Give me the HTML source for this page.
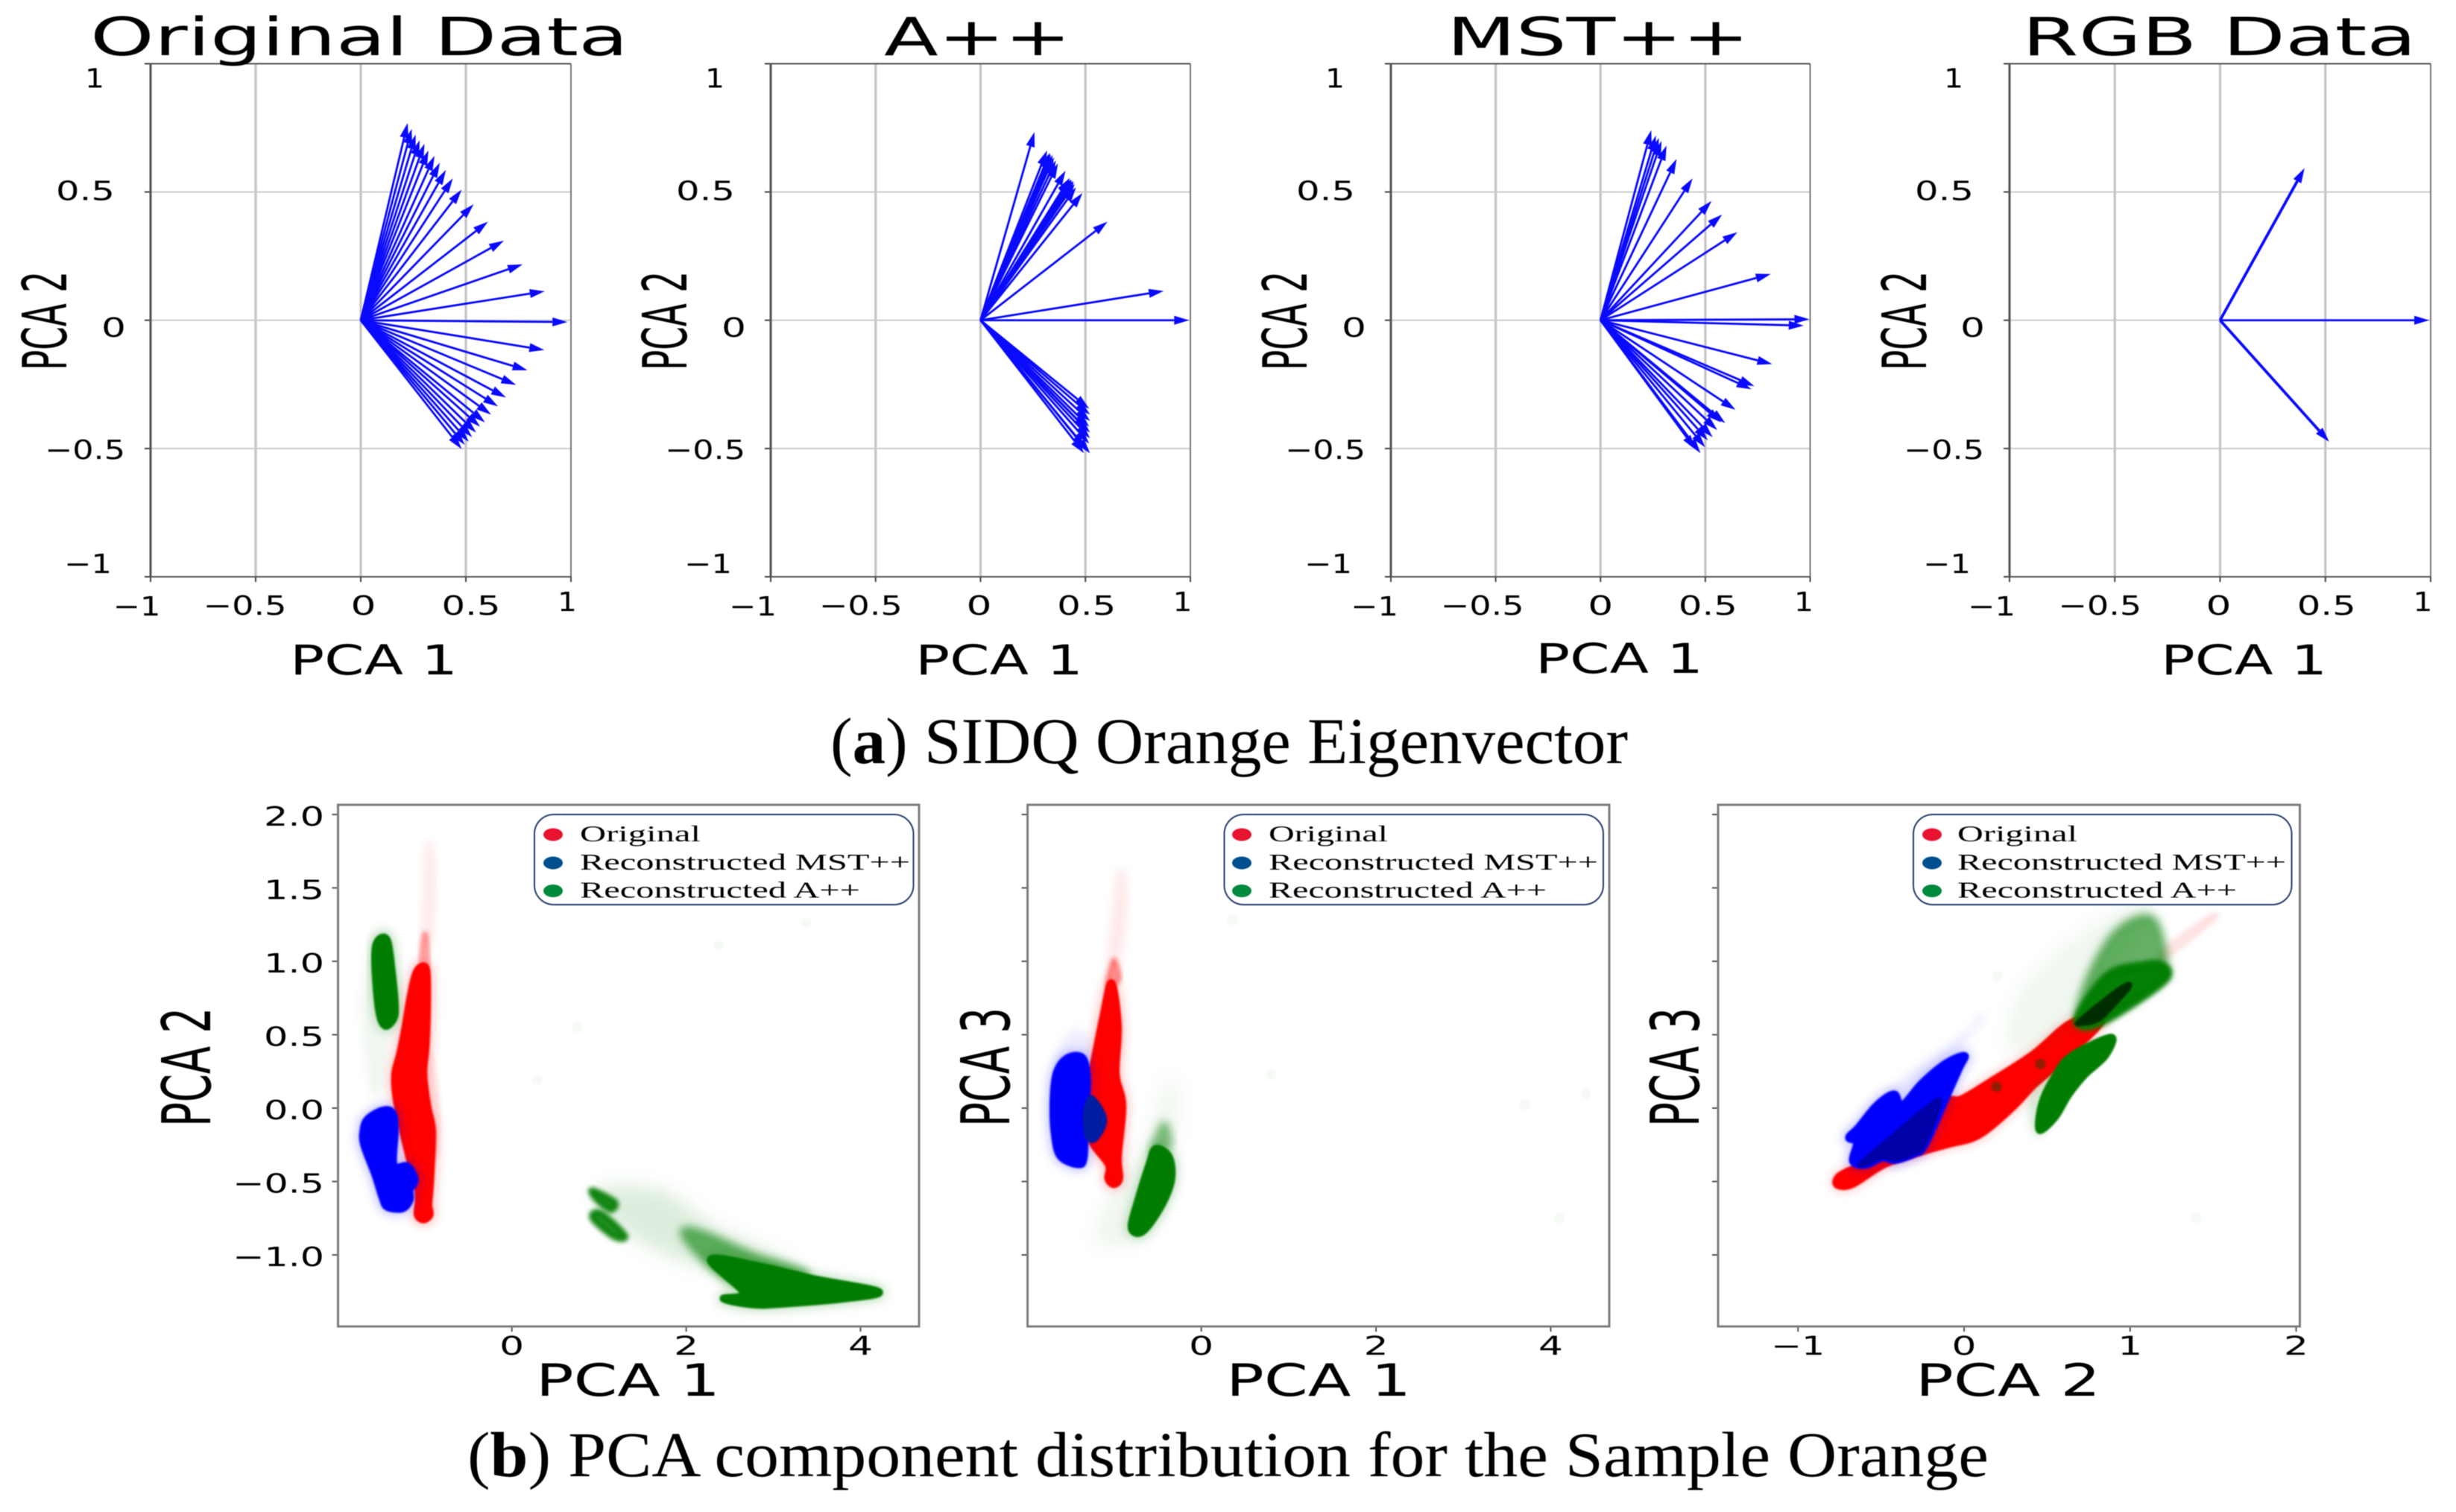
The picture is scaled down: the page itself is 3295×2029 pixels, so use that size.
<!DOCTYPE html>
<html lang="en">
<head>
<meta charset="utf-8">
<title>PCA eigenvectors and component distribution</title>
<style>
html,body{margin:0;padding:0;background:#fff;width:3295px;height:2029px;overflow:hidden}
svg{display:block;filter:blur(0.6px)}
.sans{font-family:"DejaVu Sans","Liberation Sans",sans-serif;fill:#000}
.serif{font-family:"Liberation Serif","DejaVu Serif",serif;fill:#000}
</style>
</head>
<body>
<svg id="fig" xmlns="http://www.w3.org/2000/svg" width="3295" height="2029" viewBox="0 0 3295 2029">
<defs>
<filter id="b1" x="-20%" y="-20%" width="140%" height="140%"><feGaussianBlur stdDeviation="1"/></filter>
<filter id="b3" x="-30%" y="-30%" width="160%" height="160%"><feGaussianBlur stdDeviation="3"/></filter>
<filter id="b6" x="-40%" y="-40%" width="180%" height="180%"><feGaussianBlur stdDeviation="6"/></filter>
<filter id="b12" x="-60%" y="-60%" width="220%" height="220%"><feGaussianBlur stdDeviation="12"/></filter>
</defs>
<rect width="3295" height="2029" fill="#fff"/>
<g id="marks"></g>

<!-- Titles -->
<text class="sans" x="121" y="74" font-size="70" textLength="722" lengthAdjust="spacingAndGlyphs">Original Data</text>
<text class="sans" x="1186" y="74" font-size="70" textLength="251" lengthAdjust="spacingAndGlyphs">A++</text>
<text class="sans" x="1941" y="74" font-size="70" textLength="406" lengthAdjust="spacingAndGlyphs">MST++</text>
<text class="sans" x="2713" y="74" font-size="70" textLength="529" lengthAdjust="spacingAndGlyphs">RGB Data</text>

<!-- Upper x axis titles -->
<text class="sans" x="389" y="905" font-size="55" textLength="225" lengthAdjust="spacingAndGlyphs">PCA 1</text>
<text class="sans" x="1228" y="905" font-size="55" textLength="225" lengthAdjust="spacingAndGlyphs">PCA 1</text>
<text class="sans" x="2060" y="903" font-size="55" textLength="225" lengthAdjust="spacingAndGlyphs">PCA 1</text>
<text class="sans" x="2899" y="905" font-size="55" textLength="223" lengthAdjust="spacingAndGlyphs">PCA 1</text>

<!-- Upper y axis titles -->
<text class="sans" transform="translate(89,497) rotate(-90)" font-size="82" textLength="133" lengthAdjust="spacingAndGlyphs">PCA 2</text>
<text class="sans" transform="translate(921,497) rotate(-90)" font-size="82" textLength="133" lengthAdjust="spacingAndGlyphs">PCA 2</text>
<text class="sans" transform="translate(1753,497) rotate(-90)" font-size="82" textLength="133" lengthAdjust="spacingAndGlyphs">PCA 2</text>
<text class="sans" transform="translate(2584,497) rotate(-90)" font-size="82" textLength="133" lengthAdjust="spacingAndGlyphs">PCA 2</text>

<!-- Captions -->
<text class="serif" x="1114" y="1024" font-size="88" textLength="1070" lengthAdjust="spacingAndGlyphs">(<tspan font-weight="bold">a</tspan>) SIDQ Orange Eigenvector</text>
<text class="serif" x="627" y="1981" font-size="86" textLength="2041" lengthAdjust="spacingAndGlyphs">(<tspan font-weight="bold">b</tspan>) PCA component distribution for the Sample Orange</text>

<!-- Lower axis titles -->
<text class="sans" x="719" y="1873" font-size="60" textLength="247" lengthAdjust="spacingAndGlyphs">PCA 1</text>
<text class="sans" x="1645" y="1873" font-size="60" textLength="248" lengthAdjust="spacingAndGlyphs">PCA 1</text>
<text class="sans" x="2570" y="1873" font-size="60" textLength="248" lengthAdjust="spacingAndGlyphs">PCA 2</text>
<text class="sans" transform="translate(282,1512) rotate(-90)" font-size="90" textLength="160" lengthAdjust="spacingAndGlyphs">PCA 2</text>
<text class="sans" transform="translate(1354,1512) rotate(-90)" font-size="90" textLength="160" lengthAdjust="spacingAndGlyphs">PCA 3</text>
<text class="sans" transform="translate(2279,1512) rotate(-90)" font-size="90" textLength="160" lengthAdjust="spacingAndGlyphs">PCA 3</text>

<!-- Legends -->
<g>
<rect x="717" y="1093" width="508.5" height="121" rx="26" fill="#fff" fill-opacity="0.85" stroke="#2a3f6f" stroke-width="2"/>
<ellipse cx="742" cy="1120" rx="13" ry="8.5" fill="#e8142f"/>
<ellipse cx="742" cy="1158" rx="13" ry="8.5" fill="#004f8f"/>
<ellipse cx="742" cy="1195.5" rx="13" ry="8.5" fill="#008a3e"/>
<text class="serif" x="778" y="1129" font-size="31" textLength="162" lengthAdjust="spacingAndGlyphs">Original</text>
<text class="serif" x="778" y="1167" font-size="31" textLength="443" lengthAdjust="spacingAndGlyphs">Reconstructed MST++</text>
<text class="serif" x="778" y="1204.5" font-size="31" textLength="376" lengthAdjust="spacingAndGlyphs">Reconstructed A++</text>
</g>
<g>
<rect x="1642.5" y="1093" width="508.5" height="121" rx="26" fill="#fff" fill-opacity="0.85" stroke="#2a3f6f" stroke-width="2"/>
<ellipse cx="1666" cy="1120" rx="13" ry="8.5" fill="#e8142f"/>
<ellipse cx="1666" cy="1158" rx="13" ry="8.5" fill="#004f8f"/>
<ellipse cx="1666" cy="1195.5" rx="13" ry="8.5" fill="#008a3e"/>
<text class="serif" x="1702" y="1129" font-size="31" textLength="160" lengthAdjust="spacingAndGlyphs">Original</text>
<text class="serif" x="1702" y="1167" font-size="31" textLength="442" lengthAdjust="spacingAndGlyphs">Reconstructed MST++</text>
<text class="serif" x="1702" y="1204.5" font-size="31" textLength="373" lengthAdjust="spacingAndGlyphs">Reconstructed A++</text>
</g>
<g>
<rect x="2567" y="1093" width="507.5" height="121" rx="26" fill="#fff" fill-opacity="0.85" stroke="#2a3f6f" stroke-width="2"/>
<ellipse cx="2592" cy="1120" rx="13" ry="8.5" fill="#e8142f"/>
<ellipse cx="2592" cy="1158" rx="13" ry="8.5" fill="#004f8f"/>
<ellipse cx="2592" cy="1195.5" rx="13" ry="8.5" fill="#008a3e"/>
<text class="serif" x="2626" y="1129" font-size="31" textLength="161" lengthAdjust="spacingAndGlyphs">Original</text>
<text class="serif" x="2626" y="1167" font-size="31" textLength="441" lengthAdjust="spacingAndGlyphs">Reconstructed MST++</text>
<text class="serif" x="2626" y="1204.5" font-size="31" textLength="375" lengthAdjust="spacingAndGlyphs">Reconstructed A++</text>
</g>
</svg>

<script>
/* ---------- Eigenvector data: each entry is [PCA 1, PCA 2] loading ---------- */
const vectorTicks = [-1, -0.5, 0, 0.5, 1];
const vectorTickLabels = ['\u22121', '\u22120.5', '0', '0.5', '1'];
const originalVectors = [
  [.223,.769],[.242,.746],[.261,.724],[.28,.702],[.303,.688],[.322,.662],[.351,.641],[.376,.614],
  [.405,.586],[.438,.553],[.48,.509],[.537,.452],[.605,.384],[.681,.31],[.77,.218],[.875,.113],
  [.983,-.007],[.873,-.116],[.793,-.195],[.739,-.252],[.691,-.301],[.653,-.336],[.62,-.368],
  [.591,-.398],[.568,-.415],[.549,-.438],[.53,-.456],[.514,-.474],[.495,-.486],[.48,-.502]
];
const aPlusVectors = [
  [.257,.734],[.317,.662],[.33,.653],[.335,.648],[.344,.644],[.35,.635],[.359,.623],[.369,.611],[.405,.583],[.425,.555],[.43,.549],
  [.435,.548],[.441,.544],[.445,.54],[.449,.532],[.455,.518],[.486,.496],[.605,.384],[.873,.114],[.994,0],
  [.518,-.345],[.522,-.368],[.522,-.393],[.518,-.415],[.51,-.43],[.522,-.438],[.522,-.46],[.518,-.481],
  [.5,-.5],[.522,-.519],[.493,-.518]
];
const mstVectors = [
  [.242,.741],[.264,.72],[.278,.711],[.291,.699],[.315,.681],[.363,.629],[.439,.553],[.53,.465],
  [.58,.412],[.653,.343],[.812,.18],[.996,.004],[.969,-.021],[.819,-.171],[.734,-.257],[.72,-.269],
  [.644,-.349],[.595,-.401],[.575,-.398],[.557,-.428],[.535,-.456],[.512,-.468],[.499,-.495],
  [.477,-.518],[.454,-.504]
];
const rgbVectors = [[.401,.593],[.993,0],[.518,-.474]];

/* ---------- Scatter cloud outlines: [x, y] in data units ---------- */
const scatterYTicks = [2, 1.5, 1, 0.5, 0, -0.5, -1];
const scatterYTickLabels = ['2.0', '1.5', '1.0', '0.5', '0.0', '\u22120.5', '\u22121.0'];
const pc1Ticks = [0, 2, 4];
const pc2Ticks = [-1, 0, 1, 2];
const pc2TickLabels = ['\u22121', '0', '1', '2'];

const p12Red = [[-1.055,.958],[-.983,.949],[-.969,.78],[-.983,.442],[-1.012,.239],[-.969,.019],[-.912,-.151],[-.926,-.404],[-.941,-.557],[-.955,-.658],[-.941,-.726],[-1.012,-.76],[-1.083,-.726],[-1.069,-.624],[-1.089,-.506],[-1.169,-.354],[-1.283,-.066],[-1.334,.103],[-1.34,.239],[-1.283,.374],[-1.226,.543],[-1.169,.746],[-1.112,.898]];
const p12RedTail = [[-1.05,.95],[-1.02,1.17],[-.97,1.17],[-.96,.95]];
const p12RedFaint = [[-.96,1.8],[-.9,1.6],[-.93,1.2],[-1.03,1.05],[-1.0,1.3]];
const p12RedSide = [[-.95,.35],[-.88,.2],[-.84,-.05],[-.86,-.3],[-.95,-.3]];
const p12Blue = [[-1.482,-.015],[-1.368,-.032],[-1.34,-.151],[-1.354,-.387],[-1.197,-.396],[-1.112,-.489],[-1.169,-.557],[-1.169,-.624],[-1.254,-.684],[-1.425,-.675],[-1.482,-.616],[-1.568,-.455],[-1.696,-.252],[-1.704,-.151],[-1.653,-.074]];
const p12GreenTop = [[-1.496,1.161],[-1.425,1.135],[-1.382,.966],[-1.34,.712],[-1.354,.611],[-1.454,.56],[-1.525,.662],[-1.568,.949],[-1.562,1.102]];
const p12GreenTopFaint = [[-1.61,.188],[-1.696,.712],[-1.596,1.085],[-1.496,1.203],[-1.397,1.135],[-1.325,.695],[-1.425,.442],[-1.539,.12]];
const p12GreenMain = [[2.283,-1.03],[2.89,-1.083],[3.468,-1.164],[4.208,-1.25],[3.815,-1.298],[3.121,-1.333],[2.775,-1.339],[2.428,-1.298],[2.659,-1.258]];
const p12GreenMid = [[1.95,-.84],[2.197,-.85],[2.775,-1.0],[3.4,-1.137],[2.659,-1.2],[2.197,-1.03]];
const p12GreenFaint = [[1.0,-.58],[1.7,-.58],[2.3,-.82],[3.2,-1.09],[2.197,-1.06],[1.35,-.84]];
const p12GreenSmallA = [[.925,-.559],[1.185,-.64],[1.127,-.694],[.954,-.613]];
const p12GreenSmallB = [[.925,-.72],[1.04,-.72],[1.3,-.868],[1.185,-.882],[.954,-.774]];
const p12Outliers = [[.29,.19],[.75,.55],[2.37,1.11],[3.38,1.26]];

const p13Red = [[-1.028,.852],[-.952,.556],[-.977,.234],[-.901,.019],[-.952,-.331],[-.937,-.478],[-1.003,-.519],[-1.068,-.478],[-1.063,-.384],[-1.256,-.223],[-1.332,-.008],[-1.281,.153],[-1.129,.61]];
const p13RedFaint = [[-.927,1.62],[-.87,1.39],[-.96,.98],[-1.06,.9],[-1.0,1.3]];
const p13RedMid = [[-1.003,1.013],[-.937,.879],[-1.078,.825]];
const p13Blue = [[-1.534,.341],[-1.357,.341],[-1.306,.18],[-1.332,-.062],[-1.342,-.331],[-1.408,-.384],[-1.61,-.331],[-1.676,-.196],[-1.696,.019],[-1.661,.234]];
const p13BlueFaint = [[-1.433,.52],[-1.28,.42],[-1.33,.2],[-1.65,.33]];
const p13BlueDark = [[-1.256,.073],[-1.104,-.075],[-1.205,-.21],[-1.306,-.196],[-1.332,-.035]];
const p13Green = [[-.522,-.277],[-.37,-.331],[-.344,-.492],[-.471,-.68],[-.673,-.841],[-.8,-.815],[-.724,-.626],[-.597,-.384]];
const p13GreenMid = [[-.43,-.1],[-.36,-.25],[-.56,-.3]];
const p13GreenFaint = [[-.34,.2],[-.35,-.25],[-.68,-.84],[-1.15,-.9],[-1.05,-.66],[-.57,-.2]];
const p13Outliers = [[.8,.23],[4.1,-.75],[3.7,.02],[4.4,.1],[.35,1.28]];

const p23Red = [[-.758,-.489],[-.71,-.447],[-.494,-.337],[-.221,-.134],[-.109,.036],[-.013,.052],[.164,.171],[.42,.357],[.645,.569],[.821,.602],[.612,.357],[.42,.171],[.276,.002],[.083,-.176],[-.093,-.235],[-.253,-.286],[-.478,-.371],[-.67,-.506],[-.75,-.519]];
const p23RedFaint = [[1.47,1.3],[1.5,1.28],[1.22,1.03],[1.19,1.07]];
const p23RedPatch = [[.196,.146],[.46,.3]];
const p23Blue = [[.003,.357],[-.029,.272],[-.109,.069],[-.237,-.252],[-.301,-.311],[-.414,-.354],[-.494,-.337],[-.59,-.387],[-.67,-.362],[-.646,-.235],[-.694,-.201],[-.638,-.134],[-.526,.019],[-.422,.095],[-.374,.019],[-.253,.171],[-.109,.306]];
const p23BlueDark = [[-.141,.052],[-.237,-.252],[-.301,-.311],[-.414,-.354],[-.494,-.337],[-.59,-.387],[-.622,-.371],[-.414,-.168],[-.253,-.015]];
const p23BlueFaint = [[.1,.62],[.051,.54],[-.36,.2],[-.39,.12],[-.093,.34]];
const p23GreenLow = [[.885,.484],[.853,.357],[.725,.222],[.629,.086],[.548,-.066],[.452,-.151],[.468,.036],[.548,.222],[.645,.357]];
const p23GreenLowFaint = [[.548,.22],[.41,.07],[.43,-.16],[.484,-.12]];
const p23GreenHigh = [[.693,.611],[.869,.898],[1.077,.966],[1.19,.966],[1.19,.865],[.821,.594]];
const p23GreenHighMid = [[.68,.6],[.76,.92],[.93,1.22],[1.14,1.29],[1.22,.96],[1.19,.865],[.821,.59]];
const p23GreenHighFaint = [[.3,.4],[.4,.85],[.9,1.3],[1.12,1.32],[.72,.62]];
const p23GreenDark = [[.685,.594],[.949,.831],[1.005,.831],[.933,.73],[.821,.602],[.725,.569]];
const p23Outliers = [[-.1,1.55],[.2,1.6],[.9,1.88],[.2,.9],[1.4,-.75]];

/* ---------- Layout (not data) ---------- */
const SVG_NS = 'http://www.w3.org/2000/svg';
const marksRoot = document.getElementById('marks');
const vectorTop = 85.5, vectorBottom = 774;
const scatterTop = 1080, scatterBottom = 1780;
const scatterY = v => 1487 - v * 197;
const vectorY = v => (vectorTop + vectorBottom) / 2 - v * (vectorBottom - vectorTop) / 2;
const xTickWidth = [64, 112, 34, 79, 26];
const xTickLeftNudge = [-54, -74, -17, -36, -21.5];
const xTickBaseline = [826, 825, 825, 825, 820];
const yTickWidth = [64, 108, 33, 79, 26];
const yTickLeft = [-116, -142, -66, -127, -88];
const yTickBaselineNudge = [-5, 14, 22, 11, 32];

function make(tag, attrs, parent) {
  const n = document.createElementNS(SVG_NS, tag);
  for (const k in attrs) n.setAttribute(k, attrs[k]);
  parent.appendChild(n);
  return n;
}
function tickText(str, x, y, size, width, parent) {
  const t = make('text', {x: x, y: y, 'font-size': size, textLength: width, lengthAdjust: 'spacingAndGlyphs', class: 'sans'}, parent);
  t.textContent = str;
  
  
}
function rule(x1, y1, x2, y2, color, w, parent, name) {
  const l = make('line', {x1: x1, y1: y1, x2: x2, y2: y2, stroke: color, 'stroke-width': w}, parent);
  
  
}

/* ---------- Eigenvector panels ---------- */
function vectorPanel(name, vectors, left, right, nudge, thick) {
  const g = make('g', {}, marksRoot);
  
  
  const x = v => (left + right) / 2 + v * (right - left) / 2;
  vectorTicks.forEach((t, i) => {
    if (t > -1 && t < 1) rule(x(t), vectorTop, x(t), vectorBottom, '#c4c4c4', 3.2, g, 'gridline-x');
    if (t > -1 && t < 1) rule(left, vectorY(t), right, vectorY(t), '#cbcbcb', 2, g, 'gridline-y');
    rule(x(t), vectorBottom, x(t), vectorBottom + 7, '#444', 2, g, 'x-tick');
    rule(left - 8, vectorY(t), left, vectorY(t), '#444', 2, g, 'y-tick');
    tickText(vectorTickLabels[i], x(t) + xTickLeftNudge[i] + nudge, xTickBaseline[i], 36, xTickWidth[i], g);
    tickText(vectorTickLabels[i], left + yTickLeft[i], vectorY(t) + yTickBaselineNudge[i], 36, yTickWidth[i], g);
  });
  rule(left, vectorTop, left, vectorBottom, '#555', 3, g, 'left-spine');
  rule(right, vectorTop, right, vectorBottom, '#777', 2, g, 'right-spine');
  rule(left, vectorTop, right, vectorTop, '#555', 2, g, 'top-spine');
  rule(left, vectorBottom, right, vectorBottom, '#555', 2, g, 'bottom-spine');
  vectors.forEach(v => {
    const x0 = x(0), y0 = vectorY(0), tx = x(v[0]), ty = vectorY(v[1]);
    const len = Math.hypot(tx - x0, ty - y0), ux = (tx - x0) / len, uy = (ty - y0) / len;
    const bx = tx - ux * 20, by = ty - uy * 20;
    const wide = thick && Math.abs(v[1]) > 0.1 ? 3.8 : 2.8;
    const a = make('g', {}, g);
    
    
    make('line', {x1: x0, y1: y0, x2: bx, y2: by, stroke: '#0a0aff', 'stroke-width': wide}, a);
    make('polygon', {points: tx + ',' + ty + ' ' + (bx - uy * 6) + ',' + (by + ux * 6) + ' ' + (bx + uy * 6) + ',' + (by - ux * 6), fill: '#0a0aff'}, a);
  });
}
vectorPanel('panel-original-data', originalVectors, 202, 766, 3.5, false);
vectorPanel('panel-a-plus-plus', aPlusVectors, 1034, 1597, -2, false);
vectorPanel('panel-mst-plus-plus', mstVectors, 1866, 2428.5, 0, false);
vectorPanel('panel-rgb-data', rgbVectors, 2696, 3261, -2, true);

/* ---------- Scatter panels ---------- */
function smoothClosedPath(points) {
  const n = points.length;
  let d = 'M' + points[0][0] + ',' + points[0][1];
  for (let i = 0; i < n; i++) {
    const p0 = points[(i - 1 + n) % n], p1 = points[i], p2 = points[(i + 1) % n], p3 = points[(i + 2) % n];
    const c1x = p1[0] + (p2[0] - p0[0]) / 6, c1y = p1[1] + (p2[1] - p0[1]) / 6;
    const c2x = p2[0] - (p3[0] - p1[0]) / 6, c2y = p2[1] - (p3[1] - p1[1]) / 6;
    d += 'C' + c1x + ',' + c1y + ' ' + c2x + ',' + c2y + ' ' + p2[0] + ',' + p2[1];
  }
  return d + 'Z';
}
function cloud(parent, pts, x, color, opacity, stroke, blur, name) {
  const p = make('path', {
    d: smoothClosedPath(pts.map(d => [x(d[0]), scatterY(d[1])])),
    fill: color, 'fill-opacity': opacity, stroke: color, 'stroke-opacity': opacity,
    'stroke-width': stroke, 'stroke-linejoin': 'round', filter: 'url(#' + blur + ')'
  }, parent);
  
  
}
function solid(parent, pts, x, color, name) {
  cloud(parent, pts, x, color, 0.18, 20, 'b6', name + '-haze');
  cloud(parent, pts, x, color, 1, 10, 'b1', name);
}
function dots(parent, pts, x, color, opacity, r, name) {
  pts.forEach(d => {
    const c = make('circle', {cx: x(d[0]), cy: scatterY(d[1]), r: r, fill: color, 'fill-opacity': opacity, filter: 'url(#b1)'}, parent);
    
    
  });
}
function scatterFrame(name, left, right, x, xTicks, xLabels, showY) {
  const g = make('g', {}, marksRoot);
  
  
  scatterYTicks.forEach((t, i) => {
    rule(left - 8, scatterY(t), left, scatterY(t), '#555', 2, g, 'y-tick');
    if (showY) {
      const w = scatterYTickLabels[i].length > 3 ? 123 : 81;
      tickText(scatterYTickLabels[i], 435 - w, scatterY(t) + 15, 36, w, g);
    }
  });
  xTicks.forEach((t, i) => {
    rule(x(t), scatterBottom, x(t), scatterBottom + 7, '#555', 2, g, 'x-tick');
    const w = xLabels[i].length > 1 ? 72 : 33;
    tickText(xLabels[i], x(t) - w / 2, 1818, 35, w, g);
  });
  return g;
}
function scatterBorder(g, left, right) {
  const r = make('rect', {x: left, y: scatterTop, width: right - left, height: scatterBottom - scatterTop, fill: 'none', stroke: '#7d7d7d', 'stroke-width': 3}, g);
  
  
}

const RED = '#ff0000', BLUE = '#0000ff', GREEN = '#007d00';

/* PCA 1 vs PCA 2 */
const x12 = v => 686.7 + v * 116.95;
const g12 = scatterFrame('panel-pca1-pca2', 453.5, 1233, x12, pc1Ticks, pc1Ticks.map(String), true);
cloud(g12, p12RedFaint, x12, RED, 0.06, 8, 'b6', 'original-cloud-faint');
cloud(g12, p12RedSide, x12, RED, 0.06, 8, 'b3', 'original-cloud-side');
cloud(g12, p12RedTail, x12, RED, 0.3, 4, 'b3', 'original-cloud-tail');
solid(g12, p12Red, x12, RED, 'original-cloud');
solid(g12, p12Blue, x12, BLUE, 'mst-cloud');
cloud(g12, p12GreenTopFaint, x12, GREEN, 0.05, 6, 'b6', 'a-cloud-top-faint');
solid(g12, p12GreenTop, x12, GREEN, 'a-cloud-top');
cloud(g12, p12GreenFaint, x12, GREEN, 0.13, 6, 'b12', 'a-cloud-faint');
cloud(g12, p12GreenMid, x12, GREEN, 0.58, 6, 'b6', 'a-cloud-mid');
solid(g12, p12GreenMain, x12, GREEN, 'a-cloud-main');
cloud(g12, p12GreenSmallA, x12, GREEN, 0.85, 8, 'b3', 'a-cloud-small');
cloud(g12, p12GreenSmallB, x12, GREEN, 0.85, 8, 'b3', 'a-cloud-small');
dots(g12, p12Outliers, x12, GREEN, 0.04, 7, 'a-outlier');
scatterBorder(g12, 453.5, 1233);

/* PCA 1 vs PCA 3 */
const x13 = v => 1611.7 + v * 117.2;
const g13 = scatterFrame('panel-pca1-pca3', 1378.6, 2159, x13, pc1Ticks, pc1Ticks.map(String), false);
cloud(g13, p13RedFaint, x13, RED, 0.07, 6, 'b6', 'original-cloud-faint');
cloud(g13, p13RedMid, x13, RED, 0.35, 6, 'b3', 'original-cloud-mid');
solid(g13, p13Red, x13, RED, 'original-cloud');
cloud(g13, p13BlueFaint, x13, BLUE, 0.06, 6, 'b6', 'mst-cloud-faint');
solid(g13, p13Blue, x13, BLUE, 'mst-cloud');
cloud(g13, p13BlueDark, x13, '#001aa0', 1, 6, 'b1', 'mst-cloud-overlap');
cloud(g13, p13GreenFaint, x13, GREEN, 0.06, 6, 'b12', 'a-cloud-faint');
cloud(g13, p13GreenMid, x13, GREEN, 0.45, 6, 'b6', 'a-cloud-mid');
solid(g13, p13Green, x13, GREEN, 'a-cloud');
dots(g13, p13Outliers, x13, GREEN, 0.04, 7, 'a-outlier');
scatterBorder(g13, 1378.6, 2159);

/* PCA 2 vs PCA 3 */
const x23 = v => 2635 + v * 222.75;
const g23 = scatterFrame('panel-pca2-pca3', 2305, 3085.5, x23, pc2Ticks, pc2TickLabels, false);
cloud(g23, p23RedFaint, x23, RED, 0.07, 8, 'b3', 'original-cloud-faint');
cloud(g23, p23Red, x23, RED, 0.18, 20, 'b6', 'original-cloud-haze');
cloud(g23, p23Red, x23, RED, 1, 14, 'b1', 'original-cloud');
dots(g23, p23RedPatch, x23, '#6e2a00', 0.75, 7, 'original-overlap-patch');
cloud(g23, p23BlueFaint, x23, BLUE, 0.06, 6, 'b6', 'mst-cloud-faint');
solid(g23, p23Blue, x23, BLUE, 'mst-cloud');
cloud(g23, p23BlueDark, x23, '#0000a8', 1, 4, 'b1', 'mst-cloud-overlap');
cloud(g23, p23GreenLowFaint, x23, GREEN, 0.14, 6, 'b6', 'a-cloud-low-faint');
cloud(g23, p23GreenLow, x23, GREEN, 1, 9, 'b1', 'a-cloud-low');
cloud(g23, p23GreenHighFaint, x23, GREEN, 0.06, 6, 'b12', 'a-cloud-high-faint');
cloud(g23, p23GreenHighMid, x23, GREEN, 0.6, 6, 'b6', 'a-cloud-high-mid');
cloud(g23, p23GreenHigh, x23, GREEN, 0.95, 14, 'b3', 'a-cloud-high');
cloud(g23, p23GreenDark, x23, '#002e00', 1, 3, 'b1', 'a-cloud-overlap');
dots(g23, p23Outliers, x23, GREEN, 0.04, 7, 'a-outlier');
scatterBorder(g23, 2305, 3085.5);
</script>
</body>
</html>
